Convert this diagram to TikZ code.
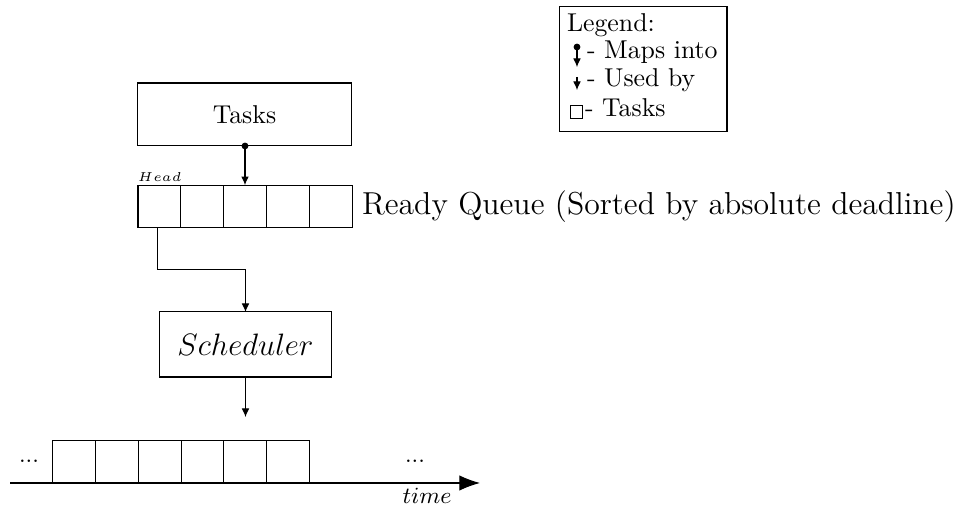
\documentclass[tikz,border=0pt]{standalone}
\usetikzlibrary{arrows.meta}
\begin{document}
\begin{tikzpicture}[x=0.3876pt,y=-0.3876pt,
  box/.style={draw,inner sep=0pt,outer sep=0pt},
  cell/.style={draw,inner sep=0pt,outer sep=0pt,minimum size=16.6pt},
  txt/.style={inner sep=0pt,outer sep=0pt},
  con/.style={-{Latex[length=3.3pt,width=3pt]}},
  mapcon/.style={{Circle[length=2.6pt]}-{Latex[length=3.3pt,width=3pt]}, shorten <=-1.3pt}]
\useasboundingbox (0,0) rectangle (960,506);
% Tasks
\node[box,minimum width=82.6pt,minimum height=24.4pt] (tasks) at (244.5,114.5) {Tasks};
% Ready queue
\foreach \i in {0,...,4}{
  \node[cell] (q\i) at ({159.4+42.8*\i},206.5) {};
}
\node[txt,anchor=south west] (head) at ([yshift=1.2pt]q0.north west) {\tiny $Head$};
\node[txt,anchor=west] (rql) at (362,207) {\fontsize{12.3pt}{15pt}\selectfont Ready Queue (Sorted by absolute deadline)};
% Scheduler
\node[box,minimum width=67pt,minimum height=25.2pt] (sched) at (245.5,344.5) {\large $Scheduler$};
% connectors
\draw[mapcon] (q2.north |- tasks.south) -- (q2.north);
\draw[con] ([xshift=-0.9pt]q0.south) -- ++(0,42) -| (sched.north);
\coordinate (tl) at (246,417);
\draw[con] (sched.south) -- (sched.south |- tl);
% timeline
\foreach \i in {0,...,5}{
  \node[cell] (t\i) at ({74.35+42.7*\i},462) {};
}
\coordinate (axs) at (10,483);
\coordinate (axe) at (480,483);
\draw[-{Latex[length=8pt,width=6pt]}] (axs) -- (axe);
\node[txt,anchor=base] (ldots) at (29,463) {\small ...};
\node[txt,anchor=base] (rdots) at (415,463) {\small ...};
\node[txt,anchor=base] (time) at (427,504) {\small $time$};
% legend
\node[box,minimum width=65.1pt,minimum height=48.1pt] (legend) at (643,69) {};
\node[txt,anchor=base west] (lgt) at (567,32) {Legend:};
\coordinate (m1) at (577,47);
\coordinate (m2) at (577,67);
\draw[mapcon] (m1) -- (m2);
\node[txt,anchor=base west] (lmap) at (587,59) {- Maps into};
\coordinate (u1) at (577,77);
\coordinate (u2) at (577,90);
\draw[con] (u1) -- (u2);
\node[txt,anchor=base west] (luse) at (587,87) {- Used by};
\node[draw,minimum size=4.8pt,inner sep=0pt] (lsq) at (576.5,112) {};
\node[txt,anchor=base west] (ltask) at (585,117) {- Tasks};
\end{tikzpicture}
\end{document}
